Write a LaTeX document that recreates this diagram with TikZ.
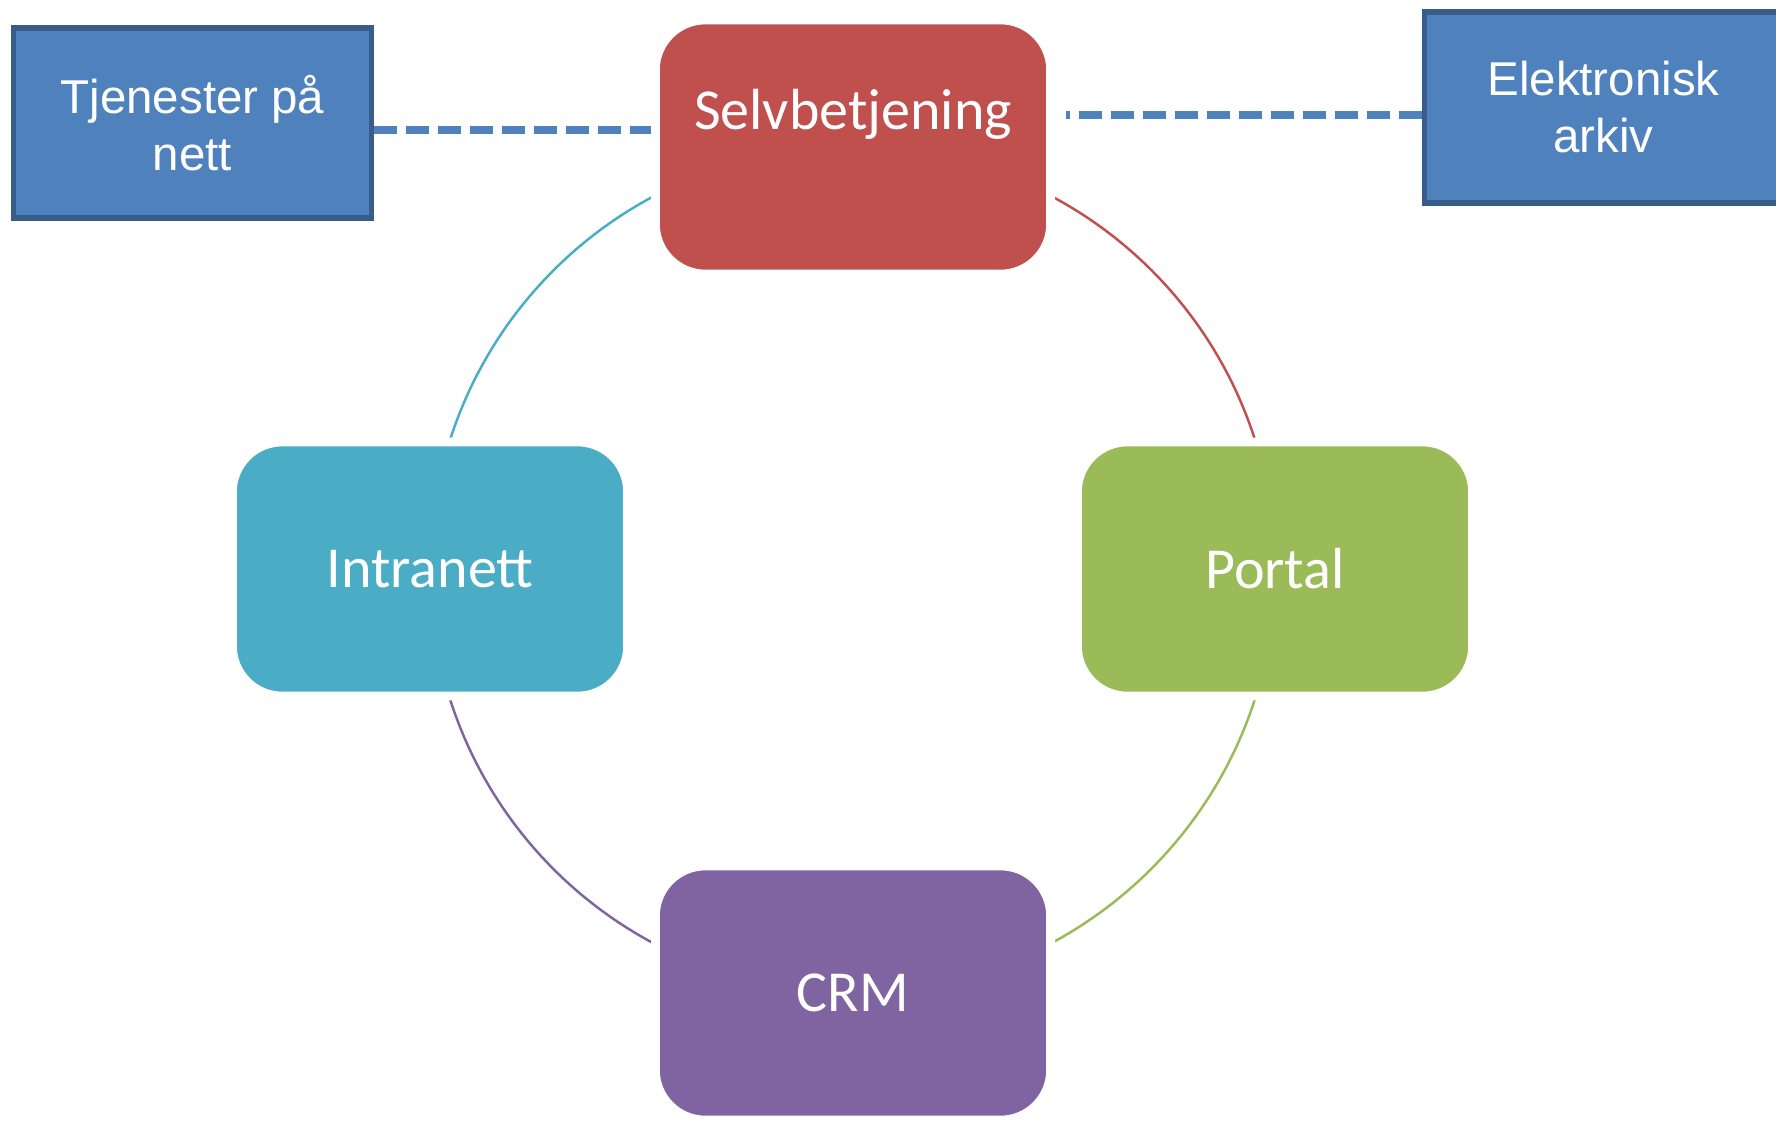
\documentclass[tikz,border=0pt]{standalone}
\usepackage{fontspec}
\setmainfont{Carlito}
\newfontfamily\arialfont{Liberation Sans}
\usetikzlibrary{backgrounds}
\definecolor{rojo}{HTML}{C0504D}
\definecolor{verde}{HTML}{9BBB59}
\definecolor{morado}{HTML}{8064A2}
\definecolor{cian}{HTML}{4BACC6}
\definecolor{azul}{HTML}{4F81BD}
\definecolor{azulborde}{HTML}{385D8A}

\begin{document}
\begin{tikzpicture}[x=0.01cm, y=-0.01cm,
    caja/.style={rectangle, rounded corners=0.5cm, draw=white, line width=2.5pt,
      minimum width=3.95cm, minimum height=2.54cm, inner sep=0pt, text=white,
      font=\fontsize{16.5}{20}\selectfont},
    sistema/.style={rectangle, fill=azul, draw=azulborde, line width=1.6pt,
      minimum width=3.575cm, minimum height=1.905cm, inner sep=0pt, text=white,
      align=center, font=\arialfont\fontsize{13.5}{16.2}\selectfont},
    enlace/.style={azul, line width=0.085cm, dash pattern=on 0.23cm off 0.09cm},
    arco/.style={line width=0.7pt}]
    \useasboundingbox (0,0) rectangle (1776,1121);

    % Cajas del ciclo
    \node[caja, fill=rojo, text height=0.4cm, text depth=0.74cm] (selv) at (853,147) {Selvbetjening};
    \node[caja, fill=verde] (portal) at (1275,569) {Portal};
    \node[caja, fill=morado] (crm) at (853,993) {CRM};
    \node[caja, fill=cian] (intra) at (430,569) {Intranett};

    % Arcos del ciclo
    \begin{pgfonlayer}{background}
    \draw[arco, rojo] (selv.center) to[bend left=45] (portal.center);
    \draw[arco, verde] (portal.center) to[bend left=45] (crm.center);
    \draw[arco, morado] (crm.center) to[bend left=45] (intra.center);
    \draw[arco, cian] (intra.center) to[bend left=45] (selv.center);
    \end{pgfonlayer}

    % Sistemas externos
    \node[sistema] (tjen) at (192.5,123) {Tjenester på\\nett};
    \node[sistema] (elek) at (1603.5,107.5) {Elektronisk\\arkiv};

    % Enlaces punteados
    \coordinate (izq) at ([yshift=-0.07cm]tjen.east);
    \coordinate (der) at ([yshift=-0.075cm]elek.west);
    \draw[enlace] (izq) -- (izq -| selv.west);
    \draw[enlace] (der) -- ([xshift=0.11cm]der -| selv.east);
\end{tikzpicture}
\end{document}
